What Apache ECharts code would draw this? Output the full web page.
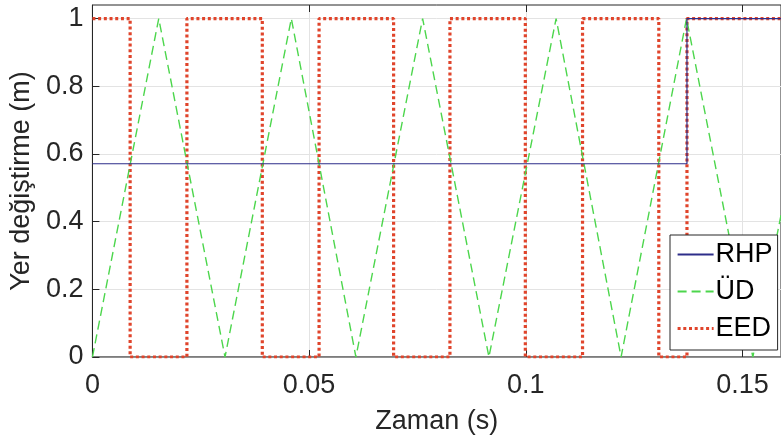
<!DOCTYPE html>
<html>
<head>
<meta charset="utf-8">
<script src="https://cdn.jsdelivr.net/npm/echarts@6/dist/echarts.min.js"></script>
<style>
  html, body { margin: 0; padding: 0; background: #fff; }
  #chart { width: 781px; height: 441px; }
</style>
</head>
<body>
<div id="chart"></div>
<script>
// zaman ekseni (s)
var xTicks = [0, 0.05, 0.1, 0.15];
var yTicks = [0, 0.2, 0.4, 0.6, 0.8, 1];

// RHP: sabit konum, sonra 1'e sıçrar
var rhpTimes = [0, 0.1372, 0.16];
var rhpValues = [0.571, 1, 1];

// ÜD: üçgen dalga
var udTimes = [0, 0.0153, 0.0306, 0.0459, 0.0608, 0.0762, 0.0915, 0.1070, 0.1220, 0.1371, 0.1524, 0.16];
var udValues = [0, 1, 0, 1, 0, 1, 0, 1, 0, 1, 0, 0.49];

// EED: kare dalga (anahtarlama anları)
var eedTimes = [0, 0.0087, 0.0218, 0.0392, 0.0523, 0.0695, 0.0825, 0.0999, 0.1131, 0.1307, 0.1372, 0.16];
var eedValues = [1, 0, 1, 0, 1, 0, 1, 0, 1, 0, 1, 1];

function zip(t, v) {
  return t.map(function (x, i) { return [x, v[i]]; });
}

var chart = echarts.init(document.getElementById('chart'));
var font = '"Liberation Sans", Arial, Helvetica, sans-serif';
var eedLine = { color: '#e0442b', width: 3.2, type: [3, 2.7], cap: 'butt' };

chart.setOption({
  animation: false,
  grid: {
    left: 92, right: -2, top: 5, bottom: 84,
    show: true, borderColor: '#262626', borderWidth: 1
  },
  legend: {
    orient: 'vertical',
    left: 670, top: 235,
    data: ['RHP', 'ÜD', { name: 'EED', lineStyle: eedLine }],
    itemWidth: 36, itemHeight: 14, itemGap: 10,
    padding: [6, 5, 8, 6],
    backgroundColor: '#fff',
    borderColor: '#262626', borderWidth: 1,
    itemStyle: { opacity: 0 },
    textStyle: { fontFamily: font, fontSize: 27, color: '#000', padding: [0, 0, 0, -3] }
  },
  xAxis: [{
    type: 'value', min: 0, max: 0.1589, interval: 0.05,
    name: 'Zaman (s)', nameLocation: 'middle', nameGap: 51,
    nameTextStyle: { fontFamily: font, fontSize: 27, color: '#262626' },
    axisLine: { show: true, lineStyle: { color: '#777', width: 1.5 } },
    axisTick: { show: true, inside: true, length: 7, lineStyle: { color: '#262626' } },
    axisLabel: { fontFamily: font, fontSize: 27, color: '#262626', margin: 15,
      customValues: xTicks },
    splitLine: { show: true, lineStyle: { color: '#e3e3e3', width: 1 } }
  }, {
    type: 'value', min: 0, max: 0.1589, interval: 0.05, position: 'top',
    axisLine: { show: false },
    axisTick: { show: true, inside: true, length: 7, lineStyle: { color: '#262626' } },
    axisLabel: { show: false },
    splitLine: { show: false }
  }],
  yAxis: {
    type: 'value', min: 0, max: 1.04, interval: 0.2,
    name: 'Yer değiştirme (m)', nameLocation: 'middle', nameGap: 54,
    nameTextStyle: { fontFamily: font, fontSize: 27, color: '#262626' },
    axisLine: { show: true, lineStyle: { color: '#262626', width: 1 } },
    axisTick: { show: true, inside: true, length: 7, lineStyle: { color: '#262626' },
      customValues: yTicks },
    axisLabel: { fontFamily: font, fontSize: 27, color: '#262626', margin: 9,
      customValues: yTicks },
    splitLine: { show: true, lineStyle: { color: '#e3e3e3', width: 1 } }
  },
  series: [{
    name: 'EED', type: 'line', step: 'end', symbol: 'none', z: 2,
    data: zip(eedTimes, eedValues),
    lineStyle: eedLine,
    itemStyle: { color: '#e0442b' }
  }, {
    name: 'ÜD', type: 'line', symbol: 'none', z: 3,
    data: zip(udTimes, udValues),
    lineStyle: { color: '#4cd64c', width: 1.4, type: [9, 5] },
    itemStyle: { color: '#4cd64c' }
  }, {
    name: 'RHP', type: 'line', step: 'end', symbol: 'none', z: 4,
    data: zip(rhpTimes, rhpValues),
    lineStyle: { color: '#2e2e8a', width: 1.2 },
    itemStyle: { color: '#2e2e8a' }
  }]
});
</script>
</body>
</html>
